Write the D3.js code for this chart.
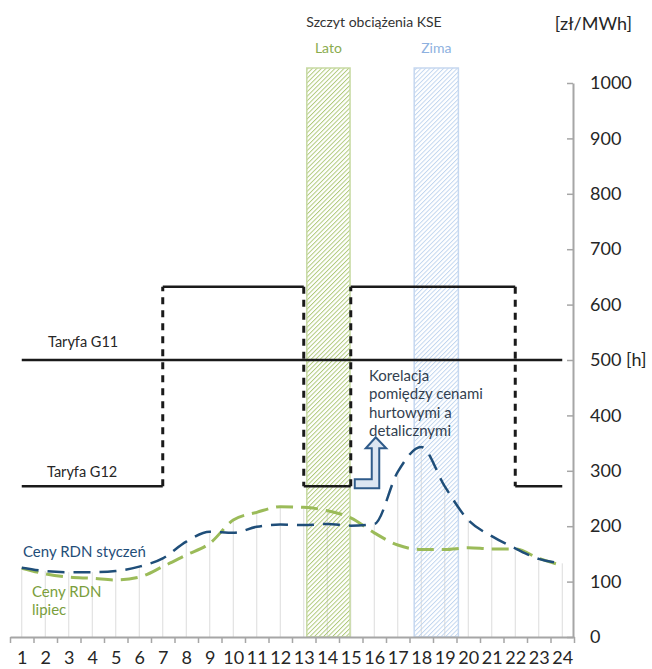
<!DOCTYPE html>
<html>
<head>
<meta charset="utf-8">
<script src="https://cdn.jsdelivr.net/npm/d3@7/dist/d3.min.js"></script>
<style>
  body { margin: 0; background: #fff; }
  svg { display: block; font-family: Lato, "Open Sans", sans-serif; }
</style>
</head>
<body>
<div id="chart"></div>
<script>
// hours of the day
const hours = [1,2,3,4,5,6,7,8,9,10,11,12,13,14,15,16,17,18,19,20,21,22,23,24];

// RDN prices [zł/MWh]
const rdnJan = [125,119,117,117,119,127,142,172,190,188,199,203,202,204,201,204,298,343,272,211,182,160,141,133];
const rdnJul = [124,114,108,106,103,108,127,148,169,211,225,235,234,228,215,188,166,158,158,161,159,159,142,129];

// tariff levels
const g11 = [[1,500],[24,500]];
const g12 = [[1,272],[7,272],[7,632],[13,632],[13,272],[15,272],[15,632],[22,632],[22,272],[24,272]];

// peak load windows (hour range)
const peakLato = [13.13, 14.97];
const peakZima = [17.7, 19.58];

const yTicks = [0,100,200,300,400,500,600,700,800,900,1000];

const width = 652, height = 669;

const svg = d3.select("#chart")
    .append("svg")
    .attr("width", width)
    .attr("height", height);

const x = d3.scaleLinear().domain([0.5, 24.5]).range([10, 574]);
const y = d3.scaleLinear().domain([0, 1000]).range([637, 83]);

// hatch patterns
const defs = svg.append("defs");
function hatch(id, color) {
    defs.append("pattern")
        .attr("id", id)
        .attr("patternUnits", "userSpaceOnUse")
        .attr("width", 3.2)
        .attr("height", 10)
        .attr("patternTransform", "rotate(45)")
        .append("line")
        .attr("x1", 0.5).attr("y1", 0)
        .attr("x2", 0.5).attr("y2", 10)
        .attr("stroke", color)
        .attr("stroke-width", 0.9);
}
hatch("hatchLato", "#a9c56f");
hatch("hatchZima", "#bcd2ee");

// drop lines
svg.append("g")
    .selectAll("line")
    .data(hours)
    .join("line")
    .attr("x1", d => x(d)).attr("x2", d => x(d))
    .attr("y1", (d, i) => y(Math.max(rdnJan[i], rdnJul[i])))
    .attr("y2", y(0))
    .attr("stroke", "#dcdcdc")
    .attr("stroke-width", 1);

// peak bands
const bands = [
    { name: "Lato", r: peakLato, fill: "url(#hatchLato)", stroke: "#c7daa3", text: "#8aac4e" },
    { name: "Zima", r: peakZima, fill: "url(#hatchZima)", stroke: "#c6d8f0", text: "#8eb1e0" }
];
svg.append("g")
    .selectAll("rect")
    .data(bands)
    .join("rect")
    .attr("x", d => x(d.r[0]))
    .attr("width", d => x(d.r[1]) - x(d.r[0]))
    .attr("y", y(1000) - 15)
    .attr("height", y(0) - y(1000) + 15)
    .attr("fill", d => d.fill)
    .attr("stroke", d => d.stroke)
    .attr("stroke-width", 1.5);

svg.append("g")
    .selectAll("text")
    .data(bands)
    .join("text")
    .attr("x", d => (x(d.r[0]) + x(d.r[1])) / 2)
    .attr("y", 53)
    .attr("text-anchor", "middle")
    .attr("font-size", 14)
    .attr("fill", d => d.text)
    .text(d => d.name);

svg.append("text")
    .attr("x", 374).attr("y", 27)
    .attr("text-anchor", "middle")
    .attr("font-size", 14)
    .attr("fill", "#333")
    .text("Szczyt obciążenia KSE");

svg.append("text")
    .attr("x", 632).attr("y", 30)
    .attr("text-anchor", "end")
    .attr("font-size", 18)
    .attr("fill", "#262626")
    .text("[zł/MWh]");

// tariffs
svg.append("path")
    .datum(g11)
    .attr("fill", "none")
    .attr("stroke", "#1a1a1a")
    .attr("stroke-width", 2.5)
    .attr("d", d3.line().x(d => x(d[0])).y(d => y(d[1])));

const g12Segs = d3.pairs(g12);
svg.append("g")
    .selectAll("line")
    .data(g12Segs)
    .join("line")
    .attr("x1", d => x(d[0][0])).attr("y1", d => y(d[0][1]))
    .attr("x2", d => x(d[1][0])).attr("y2", d => y(d[1][1]))
    .attr("stroke", "#1a1a1a")
    .attr("stroke-width", d => d[0][0] === d[1][0] ? 3 : 2.5)
    .attr("stroke-dasharray", d => d[0][0] === d[1][0] ? "7,6" : null);

svg.append("text").attr("x", 48).attr("y", 347)
    .attr("font-size", 14.5).attr("fill", "#262626").text("Taryfa G11");
svg.append("text").attr("x", 47).attr("y", 477)
    .attr("font-size", 14.5).attr("fill", "#262626").text("Taryfa G12");

// price lines
const line = d3.line()
    .x((d, i) => x(hours[i]))
    .y(d => y(d))
    .curve(d3.curveMonotoneX);

svg.append("path")
    .datum(rdnJul)
    .attr("fill", "none")
    .attr("stroke", "#9bbb59")
    .attr("stroke-width", 3)
    .attr("stroke-dasharray", "17,8")
    .attr("d", line);

svg.append("path")
    .datum(rdnJan)
    .attr("fill", "none")
    .attr("stroke", "#1f4e79")
    .attr("stroke-width", 2.5)
    .attr("stroke-dasharray", "17,9")
    .attr("d", line);

svg.append("text").attr("x", 23).attr("y", 557)
    .attr("font-size", 15).attr("fill", "#1f4e79").text("Ceny RDN styczeń");
const lip = svg.append("text").attr("x", 32).attr("y", 597)
    .attr("font-size", 15).attr("fill", "#7a9e3c");
lip.append("tspan").attr("x", 32).text("Ceny RDN");
lip.append("tspan").attr("x", 32).attr("dy", 18).text("lipiec");

// correlation annotation
const kor = svg.append("text").attr("x", 369).attr("y", 381)
    .attr("font-size", 15).attr("fill", "#333f50");
["Korelacja", "pomiędzy cenami", "hurtowymi a", "detalicznymi"].forEach((t, i) => {
    kor.append("tspan").attr("x", 369).attr("dy", i ? 18.3 : 0).text(t);
});

const ax0 = x(15), ay0 = y(272);
const arrow = d3.path();
arrow.moveTo(ax0 + 4, ay0 - 7);
arrow.lineTo(ax0 + 21, ay0 - 7);
arrow.lineTo(ax0 + 21, ay0 - 38);
arrow.lineTo(ax0 + 15, ay0 - 38);
arrow.lineTo(ax0 + 25, ay0 - 49);
arrow.lineTo(ax0 + 35.5, ay0 - 38);
arrow.lineTo(ax0 + 28.5, ay0 - 38);
arrow.lineTo(ax0 + 28.5, ay0 + 2);
arrow.lineTo(ax0 + 4, ay0 + 2);
arrow.closePath();
svg.append("path")
    .attr("d", arrow.toString())
    .attr("fill", "#dce6f2")
    .attr("stroke", "#2f5b8a")
    .attr("stroke-width", 2)
    .attr("stroke-linejoin", "miter");

// right axis
const yAxis = svg.append("g")
    .attr("transform", `translate(${x(24.5) - 1},0)`)
    .call(d3.axisRight(y)
        .tickValues(yTicks)
        .tickSizeInner(-6)
        .tickSizeOuter(0)
        .tickPadding(17)
        .tickFormat(d => d === 500 ? "500 [h]" : d));
yAxis.select(".domain").attr("stroke", "#a6a6a6").attr("stroke-width", 2);
yAxis.selectAll(".tick line").attr("stroke", "#a6a6a6").attr("stroke-width", 1.5);
yAxis.selectAll(".tick text")
    .attr("font-size", 18)
    .attr("font-family", "Lato, sans-serif")
    .attr("fill", "#262626");

// bottom axis
const bounds = hours.map(h => h - 0.5).concat([24.5]);
const xTicks = svg.append("g")
    .attr("transform", `translate(0,${y(0)})`)
    .call(d3.axisBottom(x).tickValues(bounds).tickSizeInner(6).tickSizeOuter(0).tickFormat(""));
xTicks.select(".domain").attr("stroke", "#a6a6a6").attr("stroke-width", 2);
xTicks.selectAll(".tick line").attr("stroke", "#a6a6a6").attr("stroke-width", 1.5);

const xLabels = svg.append("g")
    .attr("transform", `translate(0,${y(0)})`)
    .call(d3.axisBottom(x).tickValues(hours).tickSize(0).tickPadding(14).tickFormat(d3.format("d")));
xLabels.select(".domain").remove();
xLabels.selectAll(".tick text")
    .attr("font-size", 18)
    .attr("font-family", "Lato, sans-serif")
    .attr("fill", "#262626");
</script>
</body>
</html>
